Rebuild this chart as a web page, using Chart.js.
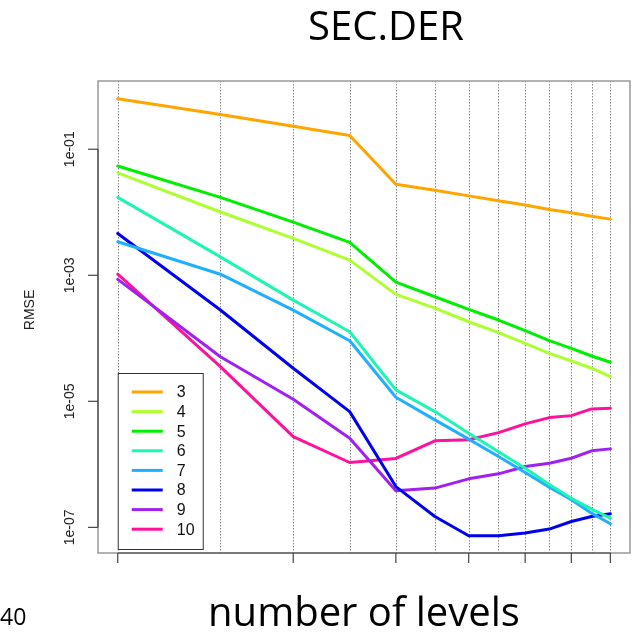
<!DOCTYPE html>
<html>
<head>
<meta charset="utf-8">
<script src="https://cdn.jsdelivr.net/npm/chart.js@4.4.1/dist/chart.umd.min.js"></script>
<style>
body { margin: 0; background: #fff; }
#wrap { position: relative; width: 633px; height: 635px; overflow: hidden; }
#chart { position: absolute; left: 0; top: 0; }
.txt { position: absolute; font-family: 'Open Sans', sans-serif; color: #000; white-space: nowrap; }
</style>
</head>
<body>
<div id="wrap">
  <canvas id="chart" width="633" height="635"></canvas>
  <div class="txt" style="left:386px; top:4.5px; font-size:40px; line-height:40px; transform:translateX(-50%);">SEC.DER</div>
  <div class="txt" style="left:364px; top:591px; font-size:40px; line-height:40px; transform:translateX(-50%);">number of levels</div>
  <div class="txt" style="left:0px; top:604.5px; font-size:23px; line-height:23px;">40</div>
</div>
<script>
// number of levels (x) and RMSE per series
const levels = [2, 3, 4, 5, 6, 7, 8, 9, 10, 11, 12, 13, 14];
const seriesNames = ['3', '4', '5', '6', '7', '8', '9', '10'];
const rmse3 = [0.635, 0.355, 0.231, 0.165, 0.0279, 0.0224, 0.0182, 0.0152, 0.0130, 0.0111, 0.0098, 0.00867, 0.00778];
const rmse4 = [0.0421, 0.0101, 0.00384, 0.00174, 4.98e-4, 3.02e-4, 1.83e-4, 1.23e-4, 8.34e-5, 5.78e-5, 4.36e-5, 3.35e-5, 2.46e-5];
const rmse5 = [0.0543, 0.0172, 0.00697, 0.00332, 7.8e-4, 4.56e-4, 2.88e-4, 1.95e-4, 1.32e-4, 9.16e-5, 6.94e-5, 5.24e-5, 4.17e-5];
const rmse6 = [0.0172, 0.00196, 4.04e-4, 1.27e-4, 1.52e-5, 6.87e-6, 3.12e-6, 1.59e-6, 8.7e-7, 4.8e-7, 2.9e-7, 1.95e-7, 1.40e-7];
const rmse7 = [0.0034, 0.00104, 2.8e-4, 9.16e-5, 1.16e-5, 5.07e-6, 2.51e-6, 1.33e-6, 7.41e-7, 4.35e-7, 2.74e-7, 1.68e-7, 1.14e-7];
const rmse8 = [0.00461, 2.81e-4, 3.35e-5, 6.87e-6, 4.44e-7, 1.49e-7, 7.36e-8, 7.36e-8, 8.13e-8, 9.4e-8, 1.24e-7, 1.49e-7, 1.64e-7];
const rmse9 = [8.61e-4, 5.1e-5, 1.08e-5, 2.6e-6, 3.8e-7, 4.2e-7, 5.89e-7, 7.07e-7, 9.23e-7, 1.04e-6, 1.25e-6, 1.64e-6, 1.76e-6];
const rmse10 = [1.04e-3, 3.55e-5, 2.76e-6, 1.07e-6, 1.24e-6, 2.36e-6, 2.45e-6, 3.19e-6, 4.38e-6, 5.52e-6, 5.93e-6, 7.58e-6, 7.78e-6];
const yTicks = [1e-1, 1e-3, 1e-5, 1e-7];
const yTickLabels = ['1e-01', '1e-03', '1e-05', '1e-07'];
const xTicks = [2, 4, 6, 8, 10, 12, 14];

const colors = ['#FFA500', '#ADFF2F', '#00EE00', '#1EF5B4', '#1EB0FF', '#0000EE', '#A020F0', '#FF119C'];
const allSeries = [rmse3, rmse4, rmse5, rmse6, rmse7, rmse8, rmse9, rmse10];

const datasets = allSeries.map((vals, i) => ({
    label: seriesNames[i],
    data: levels.map((lv, j) => ({ x: lv, y: vals[j] })),
    borderColor: colors[i],
    borderWidth: 3,
    borderCapStyle: 'round',
    borderJoinStyle: 'round',
    pointRadius: 0,
    tension: 0,
    fill: false
}));

// grid, box, axes, ticks and legend drawn with the chart's own scales
const decor = {
    id: 'decor',
    beforeDatasetsDraw(chart) {
        const { ctx, chartArea: a, scales: { x } } = chart;
        ctx.save();
        ctx.strokeStyle = '#888';
        ctx.lineWidth = 1;
        ctx.setLineDash([1.5, 1.5]);
        levels.forEach(v => {
            const px = Math.round(x.getPixelForValue(v)) + 0.5;
            ctx.beginPath();
            ctx.moveTo(px, a.top);
            ctx.lineTo(px, a.bottom);
            ctx.stroke();
        });
        ctx.restore();
    },
    afterDatasetsDraw(chart) {
        const { ctx, chartArea: a, scales: { x, y } } = chart;
        ctx.save();
        // box
        ctx.strokeStyle = '#999';
        ctx.lineWidth = 1.5;
        ctx.strokeRect(a.left, a.top, a.right - a.left, a.bottom - a.top);

        // y axis
        ctx.strokeStyle = '#444';
        ctx.lineWidth = 1.2;
        const y0 = y.getPixelForValue(yTicks[0]);
        const y1 = y.getPixelForValue(yTicks[yTicks.length - 1]);
        ctx.beginPath();
        ctx.moveTo(a.left, y0);
        ctx.lineTo(a.left, y1);
        ctx.stroke();
        ctx.fillStyle = '#222';
        ctx.font = '14px "Liberation Sans", Arial, sans-serif';
        ctx.textAlign = 'center';
        ctx.textBaseline = 'middle';
        yTicks.forEach((v, i) => {
            const py = y.getPixelForValue(v);
            ctx.beginPath();
            ctx.moveTo(a.left, py);
            ctx.lineTo(a.left - 10, py);
            ctx.stroke();
            ctx.save();
            ctx.translate(70, py);
            ctx.rotate(-Math.PI / 2);
            ctx.fillText(yTickLabels[i], 0, 0);
            ctx.restore();
        });
        ctx.save();
        ctx.translate(30, 310);
        ctx.rotate(-Math.PI / 2);
        ctx.font = '14px "Liberation Sans", Arial, sans-serif';
        ctx.fillText('RMSE', 0, 0);
        ctx.restore();

        // x axis
        const x0 = x.getPixelForValue(xTicks[0]);
        const x1 = x.getPixelForValue(xTicks[xTicks.length - 1]);
        ctx.beginPath();
        ctx.moveTo(x0, a.bottom);
        ctx.lineTo(x1, a.bottom);
        ctx.stroke();
        xTicks.forEach(v => {
            const px = x.getPixelForValue(v);
            ctx.beginPath();
            ctx.moveTo(px, a.bottom);
            ctx.lineTo(px, a.bottom + 10);
            ctx.stroke();
        });

        // legend
        const lx = x0, ly = 373, lw = 85, lh = 176;
        ctx.fillStyle = '#fff';
        ctx.fillRect(lx, ly, lw, lh);
        ctx.strokeStyle = '#333';
        ctx.lineWidth = 1;
        ctx.strokeRect(lx + 0.5, ly + 0.5, lw, lh);
        ctx.font = '16px "Liberation Sans", Arial, sans-serif';
        ctx.textAlign = 'left';
        ctx.textBaseline = 'middle';
        seriesNames.forEach((name, i) => {
            const ry = 392 + i * 19.6;
            ctx.strokeStyle = colors[i];
            ctx.lineWidth = 3;
            ctx.beginPath();
            ctx.moveTo(lx + 14, ry);
            ctx.lineTo(lx + 45, ry);
            ctx.stroke();
            ctx.fillStyle = '#111';
            ctx.fillText(name, lx + 59, ry + 1);
        });
        ctx.restore();
    }
};

new Chart(document.getElementById('chart'), {
    type: 'line',
    data: { datasets },
    options: {
        responsive: false,
        animation: false,
        layout: { padding: { left: 98, top: 81, right: 3, bottom: 82 } },
        plugins: { legend: { display: false }, tooltip: { enabled: false }, title: { display: false } },
        scales: {
            x: { type: 'logarithmic', display: false, bounds: 'data', min: 1.85, max: 15.13 },
            y: { type: 'logarithmic', display: false, bounds: 'data', min: 3.92e-8, max: 1.21 }
        }
    },
    plugins: [decor]
});
</script>
</body>
</html>
